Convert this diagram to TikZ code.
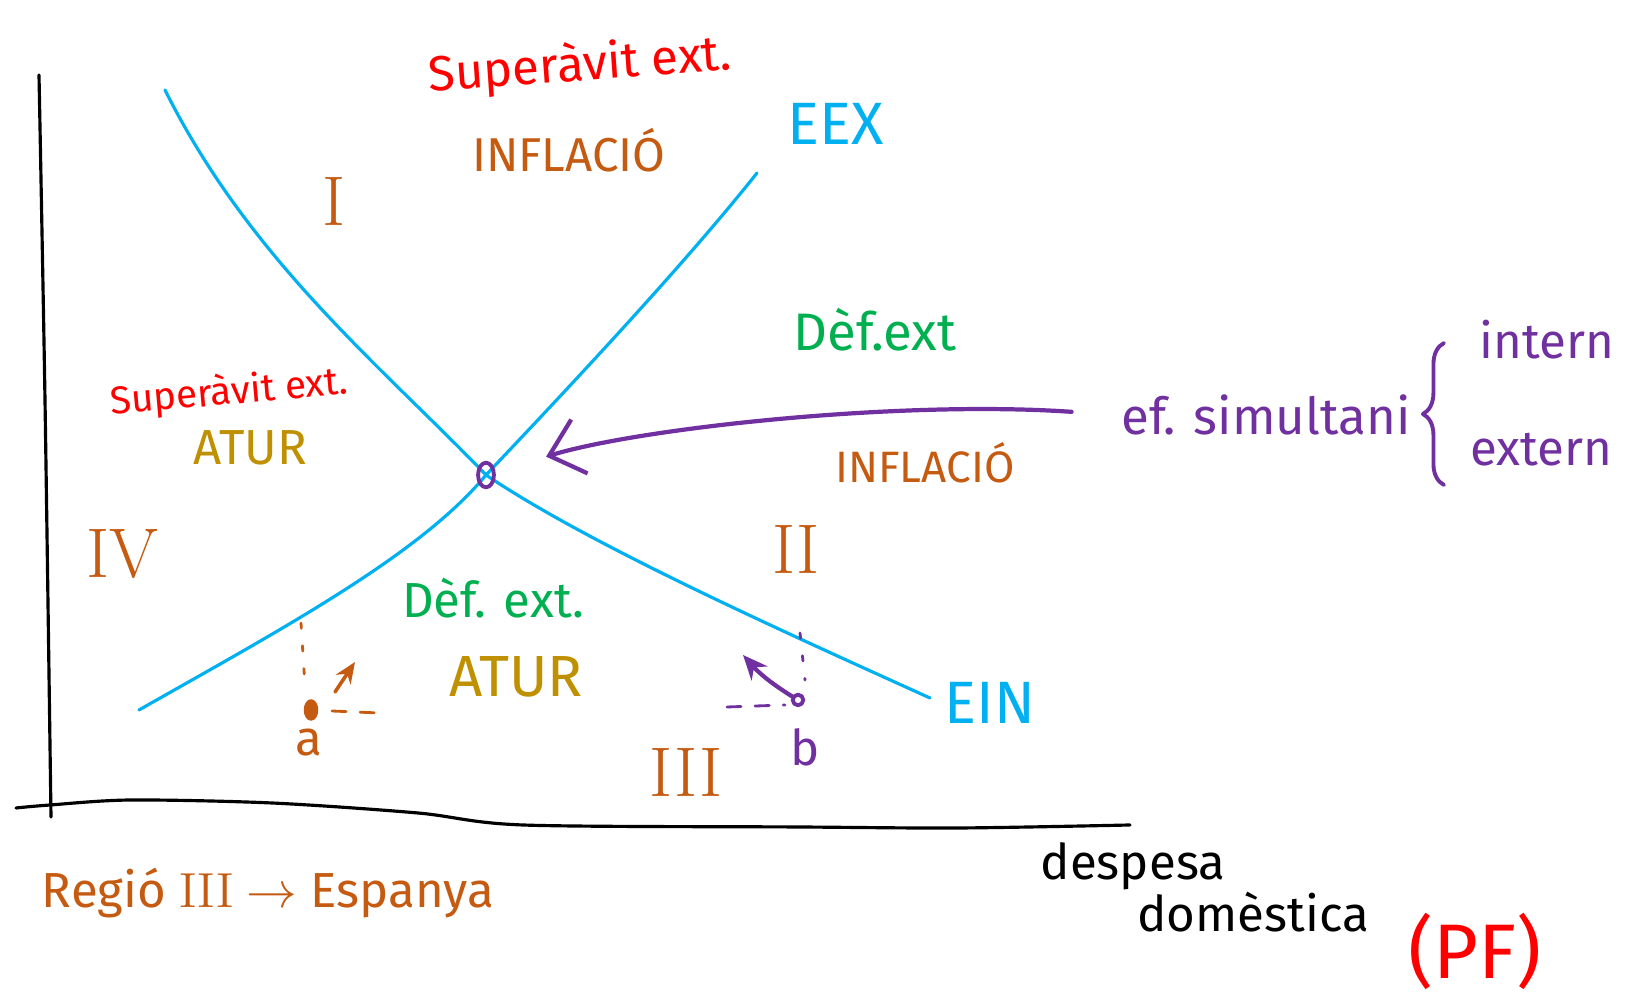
\documentclass[tikz,border=0pt]{standalone}
\usepackage{fontspec}
\setsansfont{Fira Sans}
\usepackage{tikz}
\usetikzlibrary{arrows.meta,calc,shapes.geometric,decorations.pathreplacing}
\definecolor{swanblue}{HTML}{00B0F0}
\definecolor{swanbrown}{HTML}{C55A11}
\definecolor{swangold}{HTML}{BF9000}
\definecolor{swangreen}{HTML}{00B050}
\definecolor{swanred}{HTML}{FF0000}
\definecolor{swanpurple}{HTML}{7030A0}

\begin{document}
\begin{tikzpicture}[x=0.01cm,y=-0.01cm,>=Stealth,line cap=round,line join=round,
  font=\sffamily\fontsize{14}{16}\selectfont,
  axis/.style={line width=0.9pt,black},
  sched/.style={line width=0.9pt,swanblue},
  lab/.style={inner sep=1pt},
  big/.style={font=\sffamily\fontsize{17}{19}\selectfont},
  reg/.style={font=\rmfamily\fontsize{20}{22}\selectfont,text=swanbrown,inner sep=1pt},
  vguide/.style={line width=0.8pt,dash pattern=on 1.5pt off 5pt},
  hguide/.style={line width=0.8pt,dash pattern=on 4pt off 4pt},
  dotmark/.style={ellipse,draw,line width=1.1pt,inner sep=0pt,
    minimum width=3pt,minimum height=5pt}]
\path[use as bounding box] (0,0) rectangle (1629,1001);
\fill[white] (0,0) rectangle (1629,1001);
% eixos
\draw[axis] plot[smooth] coordinates {(39,75) (45,400) (51,817)};
\draw[axis] plot[smooth] coordinates {(16,808) (50,805) (131,800) (272,803) (418,813)
  (523,825) (800,827) (959,828) (1130,825)};
% corbes EIN i EEX
\coordinate (E0) at (486,475);
\draw[sched] (165,90) .. controls (250,260) and (380,365) .. (E0)
  .. controls (590,545) and (780,630) .. (930,698);
\draw[sched] (139,710) .. controls (280,630) and (420,555) .. (E0)
  .. controls (555,402) and (680,270) .. (757,173);
\node[dotmark,draw=swanpurple,minimum width=4.5pt,minimum height=7pt] (E) at (E0) {};
\node[lab,text=swanred,rotate=4] (supT) at (580,66) {Superàvit ext.};
\node[lab,text=swanbrown,font=\sffamily\fontsize{13.5}{16}\selectfont] (infT) at (569,150) {INFLACIÓ};
\node[lab,big,text=swanblue] (eex) at (836,124) {EEX};
\node[reg] (r1) at (334,201) {I};
\node[lab,text=swangreen,font=\sffamily\fontsize{15}{17}\selectfont] (defR) at (875,330) {Dèf.ext};
\node[lab,text=swanbrown,font=\sffamily\fontsize{12.5}{15}\selectfont] (infR) at (925,463) {INFLACIÓ};
\node[lab,text=swanpurple,font=\sffamily\fontsize{14.5}{17}\selectfont] (sim) at (1266,415) {ef. simultani};
\node[lab,text=swanpurple] (intr) at (1547,340) {intern};
\node[lab,text=swanpurple] (extr) at (1541,450) {extern};
\node[lab,text=swanred,rotate=5,font=\sffamily\fontsize{11}{13}\selectfont] (supL) at (229,393) {Superàvit ext.};
\node[lab,text=swangold] (aturL) at (250,448) {ATUR};
\node[reg] (r4) at (122,554) {IV};
\node[reg] (r2) at (796,549) {II};
\node[lab,text=swangreen] (defB) at (493,598) {Dèf. ext.};
\node[lab,text=swangold,font=\sffamily\fontsize{16.5}{18}\selectfont] (aturB) at (516,677) {ATUR};
\node[reg] (r3) at (686,772) {III};
\node[lab,big,text=swanblue] (ein) at (990,703) {EIN};
\node[dotmark,draw=swanbrown,fill=swanbrown] (pa) at (311,710) {};
\node[lab,text=swanbrown] (alab) at (309,743) {a};
\node[dotmark,draw=swanpurple,minimum width=3pt,minimum height=3pt] (pb) at (798,700) {};
\node[lab,text=swanpurple] (blab) at (805,747) {b};
\node[lab,text=swanbrown] (regio) at (268,893) {Regió {\rmfamily III} $\rightarrow$ Espanya};
\node[lab] (desp) at (1133,866) {despesa};
\node[lab] (dome) at (1253,912) {domèstica};
\node[lab,text=swanred,font=\sffamily\fontsize{22}{24}\selectfont] (pf) at (1475,951) {(PF)};
% efecte simultani cap a l'equilibri
\draw[swanpurple,line width=1.2pt,-{Straight Barb[length=9pt,width=16pt]},
  shorten <=13pt,shorten >=15pt] (sim.west) .. controls (900,400) and (640,428) .. (E);
\draw[swanpurple,line width=1.1pt,decorate,decoration={brace,amplitude=6pt}]
  (1444,485) -- (1444,343);
% punt a
\coordinate (a1) at (335,692);
\coordinate (a2) at (355,662);
\draw[swanbrown,vguide] (301,623) -- (305,686);
\draw[swanbrown,hguide] (332,711) -- (379,713);
\draw[swanbrown,line width=1pt,-{Stealth[length=6pt,width=5pt]}] (a1) -- (a2);
% punt b
\coordinate (b2) at (743,655);
\draw[swanpurple,vguide] (800,633) -- (805,680);
\draw[swanpurple,hguide] (727,707) -- (785,705);
\draw[swanpurple,line width=1.2pt,-{Stealth[length=7pt,width=6pt]}] (pb) to[bend left=8] (b2);
\end{tikzpicture}
\end{document}
